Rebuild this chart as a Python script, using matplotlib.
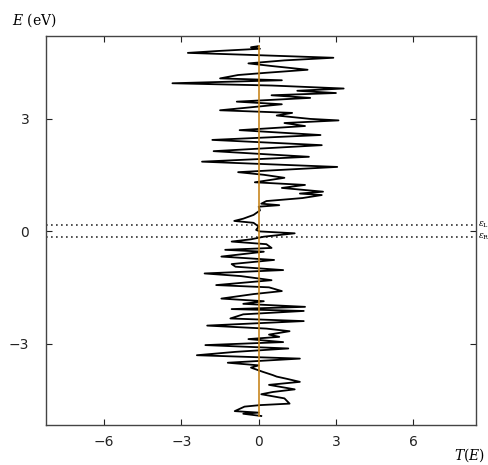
import matplotlib
matplotlib.use("Agg")
import matplotlib.pyplot as plt

# Energy (eV) and transmission T(E)
energy = [4.93, 4.90, 4.86, 4.80, 4.75, 4.70, 4.62, 4.55, 4.47, 4.40, 4.30, 4.22,
          4.16, 4.07, 4.02, 3.94, 3.88, 3.80, 3.74, 3.68, 3.62, 3.55, 3.45, 3.38,
          3.30, 3.22, 3.15, 3.08, 2.99, 2.95, 2.88, 2.80, 2.69, 2.56, 2.43, 2.29,
          2.13, 1.98, 1.85, 1.71, 1.57, 1.50, 1.42, 1.30, 1.23, 1.15, 1.05, 1.00,
          0.96, 0.88, 0.80, 0.73, 0.69, 0.65, 0.55, 0.43, 0.33, 0.27, 0.22, 0.12,
          0.03, -0.01, -0.06, -0.15, -0.22, -0.28, -0.35, -0.45, -0.50, -0.55,
          -0.68, -0.77, -0.88, -0.95, -1.04, -1.13, -1.20, -1.31, -1.44, -1.50,
          -1.60, -1.68, -1.80, -1.87, -1.94, -2.02, -2.08, -2.13, -2.22, -2.33,
          -2.40, -2.52, -2.60, -2.67, -2.76, -2.82, -2.88, -2.96, -3.04, -3.13,
          -3.22, -3.31, -3.40, -3.51, -3.58, -3.64, -3.75, -3.84, -3.88, -3.94,
          -4.02, -4.10, -4.22, -4.29, -4.35, -4.46, -4.60, -4.64, -4.68, -4.80,
          -4.84, -4.87, -4.93]
transmission = [0.0, -0.3, 0.05, -1.6, -2.75, -0.5, 2.9, 1.0, -0.4, 0.5, 1.9, 0.3,
                -0.8, -1.5, 0.9, -3.35, 0.5, 3.3, 1.5, 3.0, 0.5, 2.0, -0.85, 0.9,
                -0.3, -1.5, 1.3, 0.7, 2.0, 3.1, 1.0, 1.8, -0.74, 2.4, -1.8, 2.45,
                -1.75, 1.95, -2.2, 3.05, -0.8, 0.2, 1.0, -0.15, 1.8, 0.9, 2.5, 1.6,
                2.45, 1.7, 0.3, 0.1, 0.8, 0.0, 0.05, -0.2, -0.6, -0.95, -0.2, 0.0,
                -0.1, 0.05, 1.4, 0.2, -0.3, -1.05, 0.3, 0.5, -1.3, 0.2,
                -1.45, 0.6, -1.05, -0.9, 0.95, -2.1, -0.7, 0.5, -1.65, 0.4,
                0.9, -0.2, -1.45, 0.2, -0.6, 1.8, -1.05, 1.75, -0.6, -1.1,
                1.75, -2.0, 0.3, 1.2, 0.4, 0.8, -0.4, 0.95, -2.07, 1.15,
                -0.9, -2.4, 1.6, -1.2, 0.0, -0.3, 0.15, 0.55, 0.7, 1.1,
                1.6, 0.4, 1.4, 0.55, 0.1, 1.0, 1.2, 0.05, -0.55, -0.93,
                0.0, -0.6, 0.1]

bias_levels = [0.16, -0.16]
bias_labels = [r"$\epsilon_\mathrm{L}$", r"$\epsilon_\mathrm{R}$"]
xticks = [-6, -3, 0, 3, 6]
yticks = [-3, 0, 3]

plt.rcParams['mathtext.fontset'] = 'dejavuserif'

fig = plt.figure(figsize=(4.89, 4.65), dpi=100)
ax = fig.add_axes([46/489, 40/465, 430/489, 389/465])

ax.plot([0, 0], [min(energy), max(energy)], color='#c8861f', lw=1.2, zorder=3)
ax.plot(transmission, energy, color='black', lw=1.3, zorder=2)
for lv in bias_levels:
    ax.axhline(lv, color='#333333', lw=1.2, ls=(0, (1, 2)), zorder=1)

ax.set_xlim(-8.26, 8.44)
ax.set_ylim(-5.17, 5.2)
ax.set_xticks(xticks)
ax.set_yticks(yticks)
ax.set_xticklabels([f"{t}".replace('-', '\u2212') for t in xticks])
ax.set_yticklabels([f"{t}".replace('-', '\u2212') for t in yticks])
ax.tick_params(direction='in', length=4, width=0.8, top=True, right=True,
               labelsize=10, colors='#222222')
ax.tick_params(axis='y', pad=12)
ax.tick_params(axis='x', pad=7)
for s in ax.spines.values():
    s.set_color('#444444')
    s.set_linewidth(1.0)

fig.text(12/489, 1 - 20/465, r"$E$ (eV)", fontsize=10, family='DejaVu Serif',
         va='center', ha='left')
fig.text(485/489, 1 - 455/465, r"$T(E)$", fontsize=10, va='center', ha='right')

for lv, lab in zip(bias_levels, bias_labels):
    ax.annotate(lab, xy=(1.0, lv), xycoords=('axes fraction', 'data'),
                xytext=(1.5, 0), textcoords='offset points', fontsize=6.5,
                va='center', ha='left', annotation_clip=False)

fig.savefig('out.png', dpi=100)
